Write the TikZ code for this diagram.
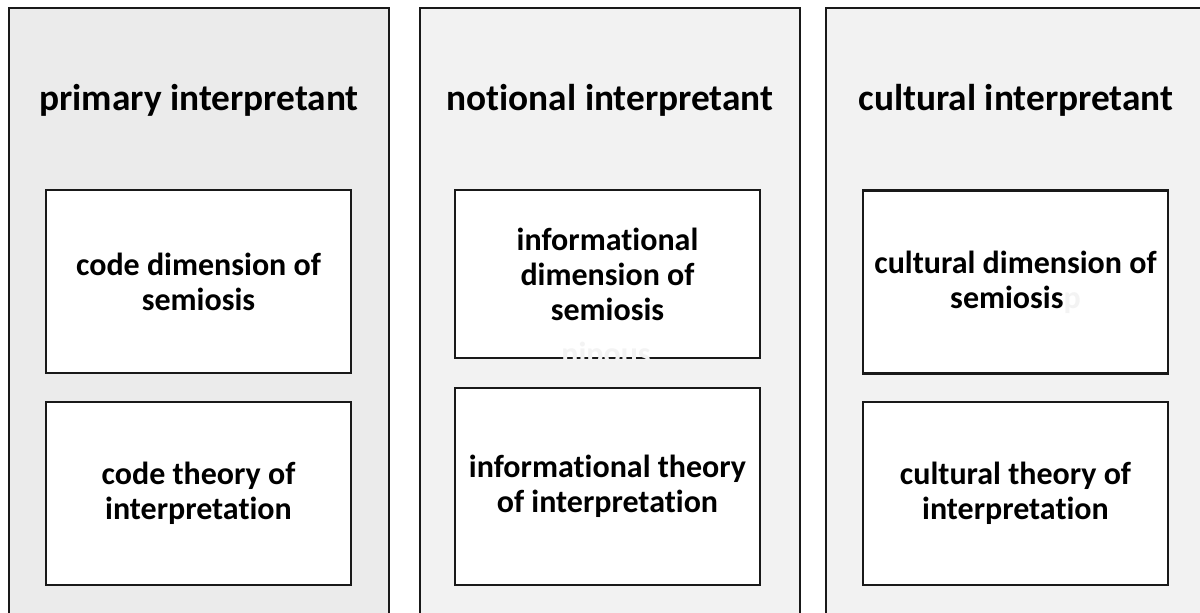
\documentclass[tikz,border=0pt]{standalone}
\usepackage{fontspec}
\setmainfont[Ligatures=NoCommon]{Carlito}

\definecolor{panelA}{HTML}{EBEBEB}
\definecolor{panelB}{HTML}{F2F2F2}
\definecolor{ghost}{HTML}{F3F3F3}

\tikzset{
  panel/.style={draw=black!90,line width=1.5pt},
  card/.style={draw=black!90,line width=1.8pt,fill=white,minimum width=228.75pt,
    align=center,font=\fontsize{24}{26.25}\selectfont\bfseries},
  heading/.style={font=\fontsize{28}{32}\selectfont\bfseries}
}

\begin{document}
\begin{tikzpicture}[x=0.75pt,y=-0.75pt]
  \useasboundingbox (0,0) rectangle (1200,613);
  % three columns, running off the bottom edge
  \foreach \x/\c in {9/panelA,420/panelB,826/panelB}
    \draw[panel,fill=\c] (\x,8) rectangle ++(380,640);

  \node[heading] (primary) at (199,100) {primary interpretant};
  \node[card,minimum height=137.25pt] (codedim) at (198.5,281.5) {code dimension of\\semiosis};
  \node[card,minimum height=137.25pt] (codetheory) at (198.5,493.5) {code theory of\\interpretation};

  \node[heading] (notional) at (610,100) {notional interpretant};
  \node[card,minimum height=126pt] (infodim) at (607.5,274) {informational\\dimension of\\semiosis};
  \node[card,minimum height=147.75pt] (infotheory) at (607.5,486.5) {informational theory\\of interpretation};

  \node[heading] (cultural) at (1016,100) {cultural interpretant};
  \node[card,minimum height=137.25pt] (culturaldim) at (1015.5,282) {cultural dimension of\\semiosis{\color{ghost}p}};
  \node[card,minimum height=137.25pt] (culturaltheory) at (1015.5,493.5) {cultural theory of\\interpretation};

  % stray white text over the lower edge of the middle card
  \begin{scope}
    \clip (560,340) rectangle (660,360);
    \node[anchor=base,text=ghost,font=\fontsize{24}{26}\selectfont\bfseries] (stray) at (606,364) {nipous};
  \end{scope}
\end{tikzpicture}
\end{document}
